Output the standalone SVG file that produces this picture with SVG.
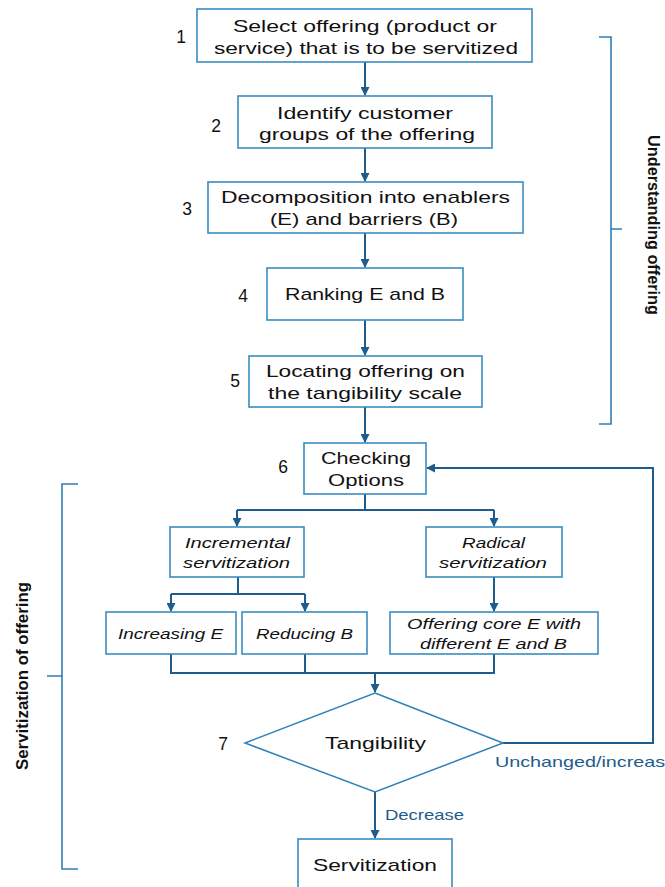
<svg xmlns="http://www.w3.org/2000/svg" width="665" height="887" viewBox="0 0 665 887">
<defs>
<style>
.box{fill:#fff;stroke:#3a8cc1;stroke-width:1.6}
.dia{fill:#fff;stroke:#2f82b5;stroke-width:1.5}
.conn{fill:none;stroke:#1d5c8c;stroke-width:2}
.br{fill:none;stroke:#2f7fb2;stroke-width:1.6}
text{font-family:"Liberation Sans",Arial,sans-serif;fill:#111}
.t{font-size:17px;text-anchor:middle}
.ti{font-size:15.5px;font-style:italic;text-anchor:middle}
.num{font-size:17.5px;text-anchor:middle}
.lbl{font-size:15px;fill:#1d5c8c}
.side{font-size:17px;font-weight:bold;text-anchor:middle}
</style>
<marker id="ah" markerUnits="userSpaceOnUse" markerWidth="9" markerHeight="9" refX="8" refY="4.5" orient="auto">
<path d="M0,0 L9,4.5 L0,9 z" fill="#1d5c8c"/>
</marker>
</defs>
<rect width="665" height="887" fill="#fff"/>

<g id="connectors">
<path class="conn" d="M365,62 V95" marker-end="url(#ah)"/>
<path class="conn" d="M365,148 V181" marker-end="url(#ah)"/>
<path class="conn" d="M365,233 V267" marker-end="url(#ah)"/>
<path class="conn" d="M365,320 V355" marker-end="url(#ah)"/>
<path class="conn" d="M365,407 V442" marker-end="url(#ah)"/>
<path class="conn" d="M365,494 V510 M237,510 H494"/>
<path class="conn" d="M237,510 V526" marker-end="url(#ah)"/>
<path class="conn" d="M494,510 V526" marker-end="url(#ah)"/>
<path class="conn" d="M238,577 V594 M171,594 H305"/>
<path class="conn" d="M171,594 V611" marker-end="url(#ah)"/>
<path class="conn" d="M305,594 V611" marker-end="url(#ah)"/>
<path class="conn" d="M494,577 V611" marker-end="url(#ah)"/>
<path class="conn" d="M171,654 V673 H494 V654 M305,654 V673"/>
<path class="conn" d="M375,673 V692" marker-end="url(#ah)"/>
<path class="conn" d="M375,792 V838" marker-end="url(#ah)"/>
<path class="conn" d="M503,743 H653 V468 H427" marker-end="url(#ah)"/>
<text class="lbl" x="385" y="820" textLength="79" lengthAdjust="spacingAndGlyphs">Decrease</text>
<text class="lbl" x="495" y="767" textLength="181" lengthAdjust="spacingAndGlyphs">Unchanged/increase</text>
</g>

<g id="n1">
<rect class="box" x="197" y="9" width="335" height="53"/>
<text class="t" x="365" y="32" textLength="264" lengthAdjust="spacingAndGlyphs">Select offering (product or</text>
<text class="t" x="366" y="54" textLength="304" lengthAdjust="spacingAndGlyphs">service) that is to be servitized</text>
<text class="num" x="181" y="43">1</text>
</g>
<g id="n2">
<rect class="box" x="238" y="96" width="254" height="52"/>
<text class="t" x="365" y="119" textLength="176" lengthAdjust="spacingAndGlyphs">Identify customer</text>
<text class="t" x="367" y="140" textLength="216" lengthAdjust="spacingAndGlyphs">groups of the offering</text>
<text class="num" x="216" y="132">2</text>
</g>
<g id="n3">
<rect class="box" x="208" y="182" width="315" height="51"/>
<text class="t" x="365.5" y="203" textLength="289" lengthAdjust="spacingAndGlyphs">Decomposition into enablers</text>
<text class="t" x="364" y="225" textLength="188" lengthAdjust="spacingAndGlyphs">(E) and barriers (B)</text>
<text class="num" x="187" y="215">3</text>
</g>
<g id="n4">
<rect class="box" x="267" y="268" width="196" height="52"/>
<text class="t" x="365" y="300" textLength="160" lengthAdjust="spacingAndGlyphs">Ranking E and B</text>
<text class="num" x="243" y="302">4</text>
</g>
<g id="n5">
<rect class="box" x="249" y="356" width="233" height="51"/>
<text class="t" x="365.5" y="377" textLength="199" lengthAdjust="spacingAndGlyphs">Locating offering on</text>
<text class="t" x="365" y="399" textLength="194" lengthAdjust="spacingAndGlyphs">the tangibility scale</text>
<text class="num" x="235" y="387">5</text>
</g>
<g id="n6">
<rect class="box" x="304" y="443" width="122" height="51"/>
<text class="t" x="366" y="464" textLength="90" lengthAdjust="spacingAndGlyphs">Checking</text>
<text class="t" x="366" y="486" textLength="76" lengthAdjust="spacingAndGlyphs">Options</text>
<text class="num" x="283" y="473">6</text>
</g>
<g id="incremental">
<rect class="box" x="170" y="527" width="134" height="50"/>
<text class="ti" x="237.5" y="548" textLength="105" lengthAdjust="spacingAndGlyphs">Incremental</text>
<text class="ti" x="236.5" y="568" textLength="107" lengthAdjust="spacingAndGlyphs">servitization</text>
</g>
<g id="radical">
<rect class="box" x="426" y="527" width="136" height="50"/>
<text class="ti" x="493.5" y="548" textLength="63" lengthAdjust="spacingAndGlyphs">Radical</text>
<text class="ti" x="493" y="568" textLength="108" lengthAdjust="spacingAndGlyphs">servitization</text>
</g>
<g id="increasing">
<rect class="box" x="106" y="612" width="130" height="42"/>
<text class="ti" x="170.5" y="639" textLength="105" lengthAdjust="spacingAndGlyphs">Increasing E</text>
</g>
<g id="reducing">
<rect class="box" x="242" y="612" width="125" height="42"/>
<text class="ti" x="304.5" y="639" textLength="97" lengthAdjust="spacingAndGlyphs">Reducing B</text>
</g>
<g id="offering-core">
<rect class="box" x="390" y="612" width="208" height="42"/>
<text class="ti" x="494" y="629" textLength="174" lengthAdjust="spacingAndGlyphs">Offering core E with</text>
<text class="ti" x="493.5" y="649" textLength="147" lengthAdjust="spacingAndGlyphs">different E and B</text>
</g>
<g id="n7">
<path class="dia" d="M375,693 L503,743 L375,792 L245,743 Z"/>
<text class="t" x="375.5" y="749" textLength="101" lengthAdjust="spacingAndGlyphs">Tangibility</text>
<text class="num" x="223" y="750">7</text>
</g>
<g id="servitization">
<rect class="box" x="298" y="839" width="154" height="60"/>
<text class="t" x="375" y="871" textLength="124" lengthAdjust="spacingAndGlyphs">Servitization</text>
</g>

<g id="bracket-understanding">
<path class="br" d="M599,37 H611 V424 H599 M611,229 H622"/>
<text class="side" transform="translate(648,225) rotate(90)" textLength="180" lengthAdjust="spacingAndGlyphs">Understanding offering</text>
</g>
<g id="bracket-servitization">
<path class="br" d="M78,484 H62 V869 H78 M62,676 H47"/>
<text class="side" transform="translate(28,676) rotate(-90)" textLength="188" lengthAdjust="spacingAndGlyphs">Servitization of offering</text>
</g>
</svg>
